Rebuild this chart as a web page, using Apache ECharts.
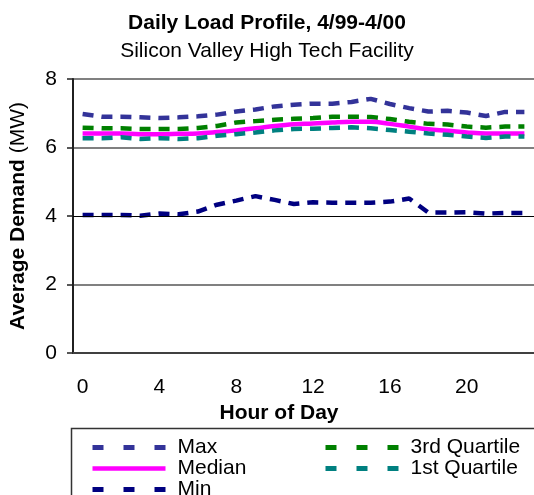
<!DOCTYPE html>
<html>
<head>
<meta charset="utf-8">
<script src="https://cdn.jsdelivr.net/npm/echarts@6/dist/echarts.min.js"></script>
<style>
  html, body { margin: 0; padding: 0; background: #fff; }
  #chart { width: 534px; height: 495px; }
</style>
</head>
<body>
<div id="chart"></div>
<script>
const hours = ['0', '1', '2', '3', '4', '5', '6', '7', '8', '9', '10', '11',
  '12', '13', '14', '15', '16', '17', '18', '19', '20', '21', '22', '23']
const maxLoad = [6.98, 6.90, 6.90, 6.88, 6.86, 6.88, 6.91, 6.96, 7.05, 7.11, 7.20, 7.25,
  7.28, 7.28, 7.33, 7.42, 7.27, 7.15, 7.05, 7.07, 7.02, 6.92, 7.04, 7.04]
const q3Load = [6.58, 6.56, 6.56, 6.54, 6.54, 6.54, 6.57, 6.63, 6.73, 6.77, 6.81, 6.84,
  6.86, 6.90, 6.90, 6.89, 6.83, 6.75, 6.69, 6.67, 6.61, 6.58, 6.61, 6.61]
const medianLoad = [6.41, 6.41, 6.41, 6.39, 6.39, 6.40, 6.41, 6.45, 6.50, 6.56, 6.63, 6.68,
  6.70, 6.73, 6.75, 6.75, 6.69, 6.61, 6.53, 6.49, 6.44, 6.41, 6.41, 6.41]
const q1Load = [6.27, 6.27, 6.30, 6.25, 6.27, 6.25, 6.27, 6.34, 6.39, 6.44, 6.50, 6.54,
  6.55, 6.57, 6.59, 6.56, 6.51, 6.46, 6.41, 6.37, 6.32, 6.28, 6.32, 6.32]
const minLoad = [4.03, 4.03, 4.03, 4.01, 4.07, 4.05, 4.13, 4.33, 4.45, 4.58, 4.47, 4.35,
  4.40, 4.39, 4.39, 4.39, 4.42, 4.51, 4.10, 4.10, 4.11, 4.07, 4.09, 4.09]

const font = 'Liberation Sans, Arial, sans-serif'
const dash = [11, 8]
const legendDash = { type: [11, 20], width: 5 }
const noSymbol = { opacity: 0 }

function dashed (name, color, data) {
  return {
    name,
    type: 'line',
    symbol: 'none',
    data,
    lineStyle: { color, width: 4.5, type: dash },
    itemStyle: { color }
  }
}

// 图例: 两列, 无边距
function legendCol (left, data) {
  return {
    orient: 'vertical',
    left,
    top: 437,
    padding: 0,
    height: 80,
    itemWidth: 73,
    itemHeight: 10,
    itemGap: 0,
    itemStyle: noSymbol,
    textStyle: { fontFamily: font, fontSize: 21, color: '#000', lineHeight: 19, padding: [0, 0, 0, 7] },
    data
  }
}

const chart = echarts.init(document.getElementById('chart'))
chart.setOption({
  backgroundColor: '#fff',
  animation: false,
  textStyle: { fontFamily: font },
  title: {
    text: 'Daily Load Profile, 4/99-4/00',
    subtext: 'Silicon Valley High Tech Facility',
    left: 'center',
    top: 8,
    itemGap: 7,
    textStyle: { fontFamily: font, fontSize: 21, fontWeight: 'bold', color: '#000' },
    subtextStyle: { fontFamily: font, fontSize: 21, color: '#000' }
  },
  grid: { left: 72, top: 79, width: 464, height: 274 },
  legend: [
    legendCol(90, [
      { name: 'Max', lineStyle: legendDash, itemStyle: noSymbol },
      { name: 'Median', lineStyle: { width: 4.5 }, itemStyle: noSymbol },
      { name: 'Min', lineStyle: legendDash, itemStyle: noSymbol }
    ]),
    legendCol(323, [
      { name: '3rd Quartile', lineStyle: legendDash, itemStyle: noSymbol },
      { name: '1st Quartile', lineStyle: legendDash, itemStyle: noSymbol }
    ])
  ],
  graphic: [
    {
      type: 'rect',
      z: -1,
      shape: { x: 71.5, y: 428.5, width: 480, height: 80 },
      style: { fill: 'none', stroke: '#333', lineWidth: 1.5 }
    }
  ],
  xAxis: {
    type: 'category',
    data: hours,
    boundaryGap: true,
    name: 'Hour of Day',
    nameLocation: 'middle',
    nameGap: 49,
    nameTextStyle: { fontFamily: font, fontSize: 21, fontWeight: 'bold', color: '#000', padding: [0, 49, 0, 0] },
    axisLine: { lineStyle: { color: '#404040', width: 2 } },
    axisTick: { interval: 3, length: 6, lineStyle: { color: '#404040', width: 1.5 } },
    axisLabel: { interval: 3, margin: 24, fontSize: 21, color: '#000' },
    splitLine: { show: false }
  },
  yAxis: {
    type: 'value',
    min: 0,
    max: 8,
    interval: 2,
    name: '{b|Average Demand} (MW)',
    nameLocation: 'middle',
    nameGap: 44,
    nameTextStyle: {
      fontFamily: font,
      fontSize: 21,
      color: '#000',
      rich: { b: { fontFamily: font, fontSize: 21, fontWeight: 'bold', color: '#000' } }
    },
    axisLine: { show: true, lineStyle: { color: '#202020', width: 2 } },
    axisTick: { show: true, length: 6, lineStyle: { color: '#202020', width: 1.5 } },
    axisLabel: { margin: 16, fontSize: 21, color: '#000' },
    splitLine: {
      lineStyle: { color: ['#808080', '#808080', 'transparent', '#808080', '#808080'], width: 2 }
    }
  },
  series: [
    dashed('Max', '#333399', maxLoad),
    dashed('3rd Quartile', '#008000', q3Load),
    {
      name: 'Median',
      type: 'line',
      symbol: 'none',
      smooth: 0.4,
      data: medianLoad,
      lineStyle: { color: '#ff00ff', width: 4.5 },
      itemStyle: { color: '#ff00ff' }
    },
    dashed('1st Quartile', '#008080', q1Load),
    {
      ...dashed('Min', '#000080', minLoad),
      markLine: {
        silent: true,
        symbol: 'none',
        label: { show: false },
        lineStyle: { color: '#000', width: 1, type: 'solid' },
        data: [{ yAxis: 4 }]
      }
    }
  ]
})
</script>
</body>
</html>
